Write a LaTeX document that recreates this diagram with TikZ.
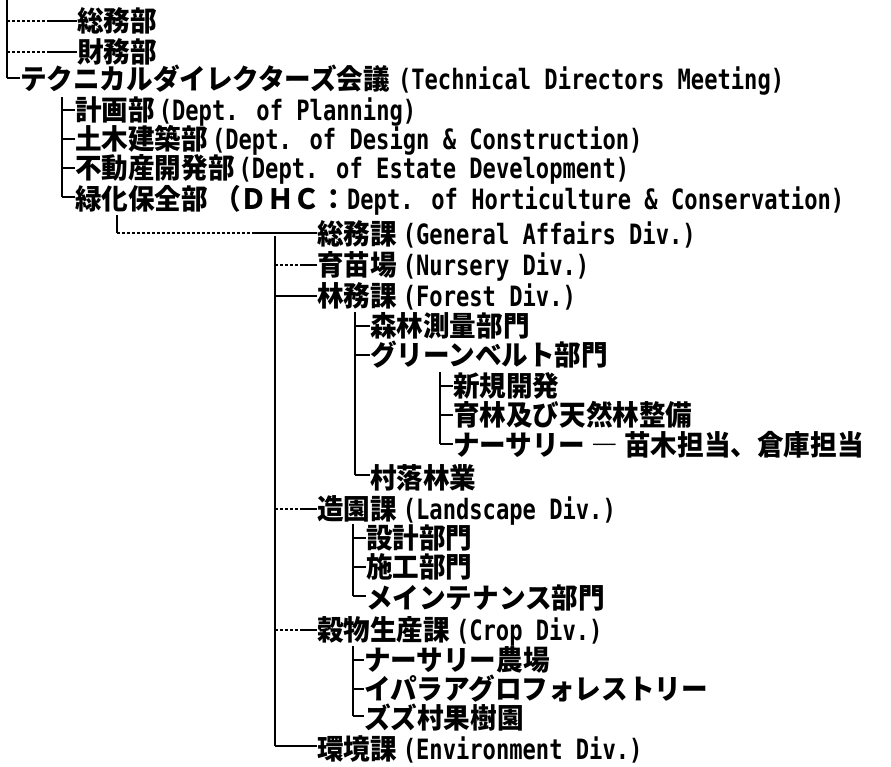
\documentclass[tikz,border=0pt]{standalone}
\usepackage{fontspec}
\newfontfamily\jpfam{Noto Sans CJK JP}[FakeStretch=0.95]
\newfontfamily\latfam{DejaVu Sans Mono}[FakeStretch=0.79]
\newcommand\jptx[1]{{\jpfam\bfseries\fontsize{28pt}{28pt}\selectfont #1}}
\newcommand\latx[1]{{\latfam\bfseries\fontsize{28pt}{28pt}\selectfont #1}}
\tikzset{
  row/.style={anchor=west,inner sep=0pt,outer sep=0pt,text height=23pt,text depth=2pt},
  vl/.style={line width=1.8pt},
  tk/.style={line width=1.1pt},
  dk/.style={line width=1.1pt,dash pattern=on 3pt off 2pt},
}
\begin{document}
\begin{tikzpicture}[x=1pt,y=-1pt]
\useasboundingbox (0,0) rectangle (891,766);
% level 0
\node[row] (n1) at (77,21) {\jptx{総務部}};
\node[row] (n2) at (77,52) {\jptx{財務部}};
\node[row] (n3) at (20,79) {\jptx{テクニカルダイレクターズ会議}\hspace{8pt}\latx{(Technical Directors Meeting)}};
% level 1
\node[row] (n4) at (75,110) {\jptx{計画部}\hspace{4pt}\latx{(Dept. of Planning)}};
\node[row] (n5) at (75,139) {\jptx{土木建築部}\hspace{4pt}\latx{(Dept. of Design \& Construction)}};
\node[row] (n6) at (75,168) {\jptx{不動産開発部}\hspace{4pt}\latx{(Dept. of Estate Development)}};
\node[row] (n7) at (75,199) {\jptx{緑化保全部 （ＤＨＣ：}\latx{Dept. of Horticulture \& Conservation)}};
% level 2
\node[row] (n8) at (317,234) {\jptx{総務課}\hspace{6pt}\latx{(General Affairs Div.)}};
\node[row] (n9) at (317,265) {\jptx{育苗場}\hspace{6pt}\latx{(Nursery Div.)}};
\node[row] (n10) at (317,296) {\jptx{林務課}\hspace{6pt}\latx{(Forest Div.)}};
\node[row] (n17) at (317,509) {\jptx{造園課}\hspace{6pt}\latx{(Landscape Div.)}};
\node[row] (n21) at (317,630) {\jptx{穀物生産課}\hspace{6pt}\latx{(Crop Div.)}};
\node[row] (n25) at (317,749) {\jptx{環境課}\hspace{6pt}\latx{(Environment Div.)}};
% level 3 forest
\node[row] (n11) at (370,326) {\jptx{森林測量部門}};
\node[row] (n12) at (370,355) {\jptx{グリーンベルト部門}};
\node[row] (n16) at (370,478) {\jptx{村落林業}};
% level 4
\node[row] (n13) at (453,386) {\jptx{新規開発}};
\node[row] (n14) at (453,415) {\jptx{育林及び天然林整備}};
\node[row] (n15) at (453,445) {\jptx{ナーサリー ― 苗木担当、倉庫担当}};
% level 3 landscape
\node[row] (n18) at (366,538) {\jptx{設計部門}};
\node[row] (n19) at (366,567) {\jptx{施工部門}};
\node[row] (n20) at (366,598) {\jptx{メインテナンス部門}};
% level 3 crop
\node[row] (n22) at (364,660) {\jptx{ナーサリー農場}};
\node[row] (n23) at (364,689) {\jptx{イパラアグロフォレストリー}};
\node[row] (n24) at (364,718) {\jptx{ズズ村果樹園}};

% ---- connectors
% trunk 0
\coordinate (a0) at (7,0);
\coordinate (a1) at (7,21);
\coordinate (a1m) at (50,21);
\coordinate (a2) at (7,52);
\coordinate (a2m) at (50,52);
\coordinate (a3) at (7,78);
\draw[vl] (a0) -- (a3);
\draw[dk] (a1) -- (a1m);
\draw[tk] (a1m) -- (n1.west);
\draw[dk] (a2) -- (a2m);
\draw[tk] (a2m) -- (n2.west);
\draw[tk] (a3) -- (a3 -| n3.west);
% trunk 1
\coordinate (b0) at (62,97);
\coordinate (b4) at (62,110);
\coordinate (b5) at (62,139);
\coordinate (b6) at (62,168);
\coordinate (b7) at (62,197);
\draw[vl] (b0) -- (b7);
\draw[tk] (b4) -- (n4.west);
\draw[tk] (b5) -- (n5.west);
\draw[tk] (b6) -- (n6.west);
\draw[tk] (b7) -- (b7 -| n7.west);
% stub from DHC to trunk 2
\coordinate (s0) at (117,215);
\coordinate (s1) at (117,233);
\coordinate (s2) at (255,233);
\draw[tk] (s0) -- (s1);
\draw[dk] (s1) -- (s2);
\draw[tk] (s2) -- (s2 -| n8.west);
% trunk 2
\coordinate (c0) at (275,236);
\coordinate (c9) at (275,265);
\coordinate (c9m) at (300,265);
\coordinate (c10) at (275,296);
\coordinate (c17) at (275,509);
\coordinate (c17m) at (300,509);
\coordinate (c21) at (275,630);
\coordinate (c21m) at (300,630);
\coordinate (c25) at (275,746);
\draw[vl] (c0) -- (c25);
\draw[dk] (c9) -- (c9m);
\draw[tk] (c9m) -- (n9.west);
\draw[tk] (c10) -- (n10.west);
\draw[dk] (c17) -- (c17m);
\draw[tk] (c17m) -- (n17.west);
\draw[dk] (c21) -- (c21m);
\draw[tk] (c21m) -- (n21.west);
\draw[tk] (c25) -- (c25 -| n25.west);
% trunk 3 forest
\coordinate (d0) at (355,312);
\coordinate (d11) at (355,326);
\coordinate (d12) at (355,355);
\coordinate (d16) at (355,475);
\draw[vl] (d0) -- (d16);
\draw[tk] (d11) -- (n11.west);
\draw[tk] (d12) -- (n12.west);
\draw[tk] (d16) -- (d16 -| n16.west);
% trunk 4
\coordinate (e0) at (440,372);
\coordinate (e13) at (440,386);
\coordinate (e14) at (440,415);
\coordinate (e15) at (440,444);
\draw[vl] (e0) -- (e15);
\draw[tk] (e13) -- (n13.west);
\draw[tk] (e14) -- (n14.west);
\draw[tk] (e15) -- (e15 -| n15.west);
% trunk 3 landscape
\coordinate (f0) at (353,524);
\coordinate (f18) at (353,538);
\coordinate (f19) at (353,567);
\coordinate (f20) at (353,596);
\draw[vl] (f0) -- (f20);
\draw[tk] (f18) -- (n18.west);
\draw[tk] (f19) -- (n19.west);
\draw[tk] (f20) -- (f20 -| n20.west);
% trunk 3 crop
\coordinate (g0) at (353,646);
\coordinate (g22) at (353,660);
\coordinate (g23) at (353,689);
\coordinate (g24) at (353,716);
\draw[vl] (g0) -- (g24);
\draw[tk] (g22) -- (n22.west);
\draw[tk] (g23) -- (n23.west);
\draw[tk] (g24) -- (g24 -| n24.west);
\end{tikzpicture}
\end{document}
